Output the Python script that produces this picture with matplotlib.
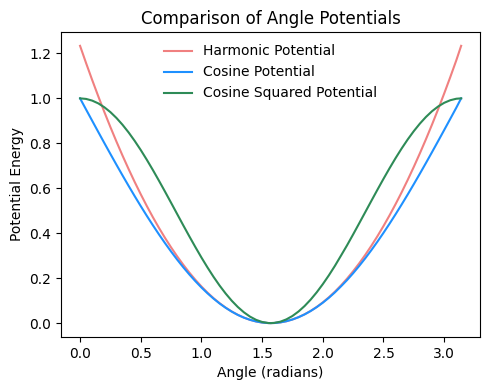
import matplotlib
matplotlib.use('Agg')
import matplotlib.pyplot as plt

# Angle samples (radians) and potential values
angles = [0.0, 0.05, 0.1, 0.15, 0.2, 0.25, 0.3, 0.35, 0.4, 0.45, 0.5, 0.55,
          0.6, 0.65, 0.7, 0.75, 0.8, 0.85, 0.9, 0.95, 1.0, 1.05, 1.1, 1.15,
          1.2, 1.25, 1.3, 1.35, 1.4, 1.45, 1.5, 1.55, 1.57, 1.6, 1.65, 1.7,
          1.75, 1.8, 1.85, 1.9, 1.95, 2.0, 2.05, 2.1, 2.15, 2.2, 2.25, 2.3,
          2.35, 2.4, 2.45, 2.5, 2.55, 2.6, 2.65, 2.7, 2.75, 2.8, 2.85, 2.9,
          2.95, 3.0, 3.05, 3.1, 3.14]

harmonic = [1.2337, 1.1564, 1.0816, 1.0093, 0.9395, 0.8723, 0.8075, 0.7452,
            0.6854, 0.6281, 0.5733, 0.5210, 0.4712, 0.4239, 0.3791, 0.3369,
            0.2971, 0.2598, 0.2250, 0.1927, 0.1629, 0.1356, 0.1108, 0.0885,
            0.0687, 0.0515, 0.0367, 0.0244, 0.0146, 0.0073, 0.0025, 0.0002,
            0.0, 0.0004, 0.0031, 0.0083, 0.0161, 0.0263, 0.0390, 0.0542,
            0.0719, 0.0921, 0.1148, 0.1400, 0.1677, 0.1979, 0.2307, 0.2659,
            0.3036, 0.3438, 0.3865, 0.4317, 0.4794, 0.5296, 0.5823, 0.6375,
            0.6953, 0.7555, 0.8182, 0.8834, 0.9511, 1.0213, 1.0940, 1.1692,
            1.2337]

cosine = [1.0, 0.9500, 0.9002, 0.8506, 0.8013, 0.7526, 0.7045, 0.6571,
          0.6106, 0.5650, 0.5206, 0.4773, 0.4354, 0.3948, 0.3558, 0.3184,
          0.2826, 0.2487, 0.2167, 0.1866, 0.1585, 0.1326, 0.1088, 0.0872,
          0.0680, 0.0510, 0.0364, 0.0243, 0.0146, 0.0073, 0.0025, 0.0002,
          0.0, 0.0004, 0.0031, 0.0083, 0.0160, 0.0262, 0.0387, 0.0537,
          0.0710, 0.0907, 0.1126, 0.1368, 0.1635, 0.1915, 0.2219, 0.2543,
          0.2885, 0.3245, 0.3622, 0.4015, 0.4423, 0.4845, 0.5280, 0.5726,
          0.6183, 0.6650, 0.7125, 0.7608, 0.8096, 0.8589, 0.9085, 0.9584,
          1.0]

cosine_sq = [1.0, 0.9975, 0.9900, 0.9777, 0.9605, 0.9388, 0.9127, 0.8824,
             0.8484, 0.8108, 0.7702, 0.7268, 0.6812, 0.6337, 0.5850, 0.5354,
             0.4854, 0.4355, 0.3864, 0.3384, 0.2919, 0.2476, 0.2057, 0.1668,
             0.1313, 0.0994, 0.0716, 0.0480, 0.0289, 0.0145, 0.0050, 0.0004,
             0.0, 0.0009, 0.0062, 0.0166, 0.0317, 0.0516, 0.0759, 0.1045,
             0.1370, 0.1732, 0.2125, 0.2548, 0.3003, 0.3463, 0.3946, 0.4440,
             0.4938, 0.5437, 0.5932, 0.6418, 0.6890, 0.7343, 0.7772, 0.8174,
             0.8543, 0.8877, 0.9173, 0.9428, 0.9637, 0.9801, 0.9916, 0.9983,
             1.0]

fig, ax = plt.subplots(figsize=(4.9, 3.9), dpi=100)

ax.plot(angles, harmonic, color='lightcoral', label='Harmonic Potential')
ax.plot(angles, cosine, color='dodgerblue', label='Cosine Potential')
ax.plot(angles, cosine_sq, color='seagreen', label='Cosine Squared Potential')

ax.set_title('Comparison of Angle Potentials')
ax.set_xlabel('Angle (radians)')
ax.set_ylabel('Potential Energy')
ax.legend(loc='upper center', frameon=False)

# axes box placed to match the reference
fig.subplots_adjust(left=0.1245, right=0.98, top=0.918, bottom=0.136)
plt.savefig('out.png')
